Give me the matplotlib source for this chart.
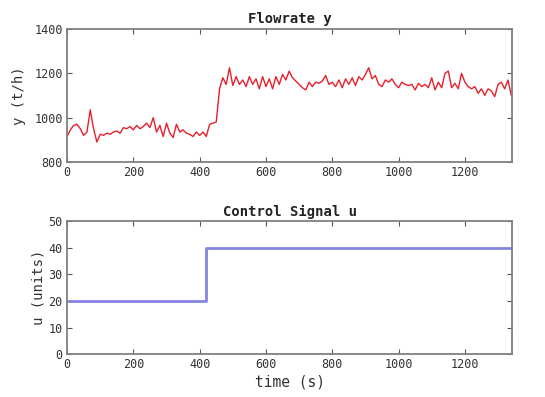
import numpy as np
import matplotlib
matplotlib.use("Agg")
import matplotlib.pyplot as plt

# time samples (s)
t = list(range(0, 1350, 10))
# flowrate y (t/h)
y = [915, 945, 965, 970, 950, 920, 935, 1035, 950, 890,
     925, 920, 930, 925, 935, 940, 930, 955, 950, 960,
     945, 965, 950, 960, 975, 955, 1000, 935, 965, 915,
     975, 930, 910, 970, 935, 945, 930, 925, 915, 935,
     920, 935, 915, 970, 975, 980, 1130, 1180, 1150, 1225,
     1145, 1185, 1150, 1170, 1140, 1185, 1150, 1175, 1130, 1185,
     1140, 1175, 1130, 1185, 1150, 1195, 1170, 1210, 1180, 1165,
     1150, 1135, 1125, 1160, 1140, 1160, 1155, 1165, 1190, 1150,
     1160, 1140, 1170, 1135, 1175, 1150, 1180, 1145, 1185, 1170,
     1195, 1225, 1175, 1190, 1150, 1140, 1170, 1160, 1175, 1150,
     1135, 1160, 1150, 1145, 1150, 1125, 1155, 1140, 1150, 1135,
     1180, 1125, 1160, 1135, 1200, 1210, 1135, 1155, 1130, 1200,
     1160, 1140, 1130, 1140, 1110, 1130, 1100, 1130, 1120, 1095,
     1150, 1160, 1130, 1170, 1100]

# control signal u: step times and levels
u_times = [0, 420, 1343]
u_levels = [20, 40, 40]

x_max = 1343
x_ticks = [0, 200, 400, 600, 800, 1000, 1200]
y_ticks = [800, 1000, 1200, 1400]
u_ticks = [0, 10, 20, 30, 40, 50]

mono = "DejaVu Sans Mono"
plt.rcParams['font.family'] = mono

fig = plt.figure(figsize=(5.45, 3.97), dpi=100)
ax1 = fig.add_axes([0.123, 0.592, 0.817, 0.335])
ax2 = fig.add_axes([0.123, 0.108, 0.817, 0.335])

ax1.plot(t, y, color='#e8202c', lw=1.0)
ax2.step(u_times, u_levels, where='post', color='#8585e2', lw=2.0)

for ax in (ax1, ax2):
    ax.set_xlim(0, x_max)
    ax.set_xticks(x_ticks)
    ax.tick_params(direction='in', top=True, right=True, length=3.5,
                   labelsize=8.5, colors='#555555', labelcolor='#333333', pad=3)
    for s in ax.spines.values():
        s.set_color('#808080')
        s.set_linewidth(1.3)

ax1.set_ylim(800, 1400)
ax1.set_yticks(y_ticks)
ax1.set_ylabel('y (t/h)', fontsize=10, color='#333333', labelpad=6)
ax1.set_title('Flowrate y', fontsize=10, fontweight='bold', color='#222222', pad=4)

ax2.set_ylim(0, 50)
ax2.set_yticks(u_ticks)
ax2.set_ylabel('u (units)', fontsize=10, color='#333333', labelpad=2)
ax2.set_xlabel('time (s)', fontsize=10.5, color='#333333', labelpad=2)
ax2.set_title('Control Signal u', fontsize=10, fontweight='bold', color='#222222', pad=4)

fig.savefig('out.png', dpi=100, facecolor='white')
